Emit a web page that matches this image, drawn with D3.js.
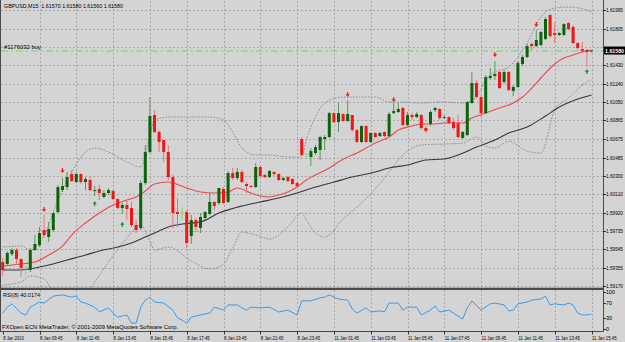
<!DOCTYPE html>
<html><head><meta charset="utf-8">
<script src="https://cdn.jsdelivr.net/npm/d3@7"></script>
<style>html,body{margin:0;padding:0;background:#d4d4d4;overflow:hidden}</style>
</head><body><svg id="c" width="625" height="342"></svg>
<script>
// ---------- DATA ----------
const symbolTitle = "GBPUSD,M15  1.61570 1.61580 1.61560 1.61580";
const orderLabel = "#1176032 buy";
const orderPrice = 1.61575;
const rsiTitle = "RSI(8) 40.0174";
const copyright = "FXOpen ECN MetaTrader, \u00A9 2001-2009 MetaQuotes Software Corp.";
const lastPrice = 1.61580;

const priceTicks = ["1.61995","1.61805","1.61615","1.61430","1.61240","1.61050","1.60865","1.60675","1.60485","1.60300","1.60110","1.59920","1.59735","1.59545","1.59355","1.59170"];
const rsiTicks = [100,70,30,0];
const timeTickBars = [0,8,16,24,32,40,48,56,64,72,80,88,96,104,112,120,128];
const timeTickLabels = ["8 Jan 2010","8 Jan 09:45","8 Jan 11:45","8 Jan 13:45","8 Jan 15:45","8 Jan 17:45","8 Jan 19:45","8 Jan 21:45","8 Jan 23:45","11 Jan 01:45","11 Jan 03:45","11 Jan 05:45","11 Jan 07:45","11 Jan 09:45","11 Jan 11:45","11 Jan 13:45","11 Jan 15:45"];

const openV = [1.59415,1.59395,1.59497,1.59538,1.59446,1.59364,1.59334,1.59538,1.59589,1.59743,
1.59671,1.59743,1.59927,1.60152,1.60183,1.60316,1.60234,1.60316,1.60234,1.60255,
1.60142,1.60163,1.60081,1.60122,1.60142,1.60060,1.59968,1.59999,1.59968,1.59794,
1.59763,1.60224,1.60541,1.60920,1.60746,1.60664,1.60541,1.60285,1.59927,1.59927,
1.59927,1.59682,1.59845,1.59763,1.59866,1.59907,1.60030,1.60019,1.60163,1.60030,
1.60326,1.60275,1.60337,1.60214,1.60193,1.60183,1.60388,1.60306,1.60285,1.60337,
1.60316,1.60255,1.60285,1.60265,1.60224,1.60674,1.60521,1.60490,1.60531,1.60562,
1.60674,1.60695,1.60940,1.60848,1.60930,1.60859,1.60920,1.60766,1.60644,1.60807,
1.60644,1.60736,1.60705,1.60746,1.60705,1.60940,1.60951,1.60992,1.60818,1.60920,
1.60899,1.60920,1.60787,1.60828,1.60971,1.60981,1.60889,1.60899,1.60848,1.60838,
1.60685,1.60715,1.61043,1.61247,1.61104,1.60940,1.61299,1.61319,1.61360,1.61258,
1.61360,1.61166,1.61207,1.61442,1.61514,1.61647,1.61626,1.61636,1.61698,1.61943,
1.61759,1.61739,1.61739,1.61862,1.61821,1.61657,1.61595,1.61585,1.61570];
const highV = [1.59456,1.59528,1.59559,1.59559,1.59456,1.59375,1.59559,1.59692,1.59774,1.59896,
1.59825,1.59927,1.60204,1.60275,1.60337,1.60357,1.60337,1.60326,1.60285,1.60285,
1.60193,1.60204,1.60152,1.60173,1.60163,1.60070,1.60019,1.60050,1.60030,1.59845,
1.60255,1.60613,1.61104,1.60971,1.60766,1.60664,1.60613,1.60306,1.60070,1.59978,
1.59948,1.59896,1.59866,1.59917,1.59937,1.60122,1.60040,1.60173,1.60183,1.60347,
1.60378,1.60378,1.60357,1.60234,1.60204,1.60429,1.60398,1.60316,1.60357,1.60347,
1.60326,1.60285,1.60296,1.60275,1.60234,1.60695,1.60521,1.60582,1.60613,1.60705,
1.60715,1.60951,1.60951,1.61043,1.60940,1.61074,1.60920,1.60777,1.60818,1.60818,
1.60746,1.60746,1.60746,1.60756,1.60951,1.61043,1.61043,1.61002,1.60951,1.60940,
1.60951,1.60930,1.60807,1.60971,1.61002,1.60992,1.60920,1.60910,1.60889,1.60920,
1.60756,1.61063,1.61360,1.61278,1.61125,1.61329,1.61401,1.61473,1.61380,1.61380,
1.61370,1.61227,1.61473,1.61534,1.61647,1.61667,1.61790,1.61780,1.61923,1.61954,
1.61862,1.61769,1.61862,1.61872,1.61841,1.61667,1.61667,1.61595,1.61580];
const lowV = [1.59272,1.59375,1.59477,1.59385,1.59262,1.59282,1.59313,1.59528,1.59569,1.59661,
1.59620,1.59722,1.59917,1.60132,1.60152,1.60234,1.60224,1.60214,1.60152,1.60142,
1.60091,1.60050,1.60070,1.60101,1.60050,1.59958,1.59907,1.59845,1.59774,1.59712,
1.59743,1.60204,1.60531,1.60736,1.60541,1.60439,1.60255,1.59763,1.59774,1.59845,
1.59559,1.59600,1.59722,1.59712,1.59845,1.59896,1.59948,1.59999,1.60009,1.60019,
1.60255,1.60255,1.60224,1.60122,1.60173,1.60173,1.60275,1.60275,1.60275,1.60296,
1.60244,1.60244,1.60234,1.60204,1.60173,1.60500,1.60480,1.60398,1.60511,1.60459,
1.60562,1.60685,1.60838,1.60746,1.60848,1.60848,1.60746,1.60633,1.60633,1.60633,
1.60633,1.60685,1.60695,1.60695,1.60695,1.60930,1.60940,1.60807,1.60807,1.60869,
1.60889,1.60766,1.60736,1.60807,1.60951,1.60869,1.60879,1.60828,1.60766,1.60685,
1.60674,1.60705,1.61033,1.61094,1.60899,1.60930,1.61278,1.61278,1.61186,1.61237,
1.61166,1.61114,1.61196,1.61421,1.61503,1.61585,1.61616,1.61626,1.61688,1.61708,
1.61657,1.61728,1.61728,1.61790,1.61647,1.61585,1.61565,1.61411,1.61560];
const closeV = [1.59334,1.59508,1.59538,1.59446,1.59354,1.59364,1.59538,1.59600,1.59712,1.59692,
1.59753,1.59917,1.60183,1.60193,1.60285,1.60244,1.60316,1.60234,1.60265,1.60152,
1.60152,1.60122,1.60122,1.60152,1.60060,1.59968,1.59999,1.59958,1.59794,1.59743,
1.60224,1.60541,1.60910,1.60746,1.60644,1.60541,1.60285,1.59917,1.59907,1.59927,
1.59610,1.59845,1.59774,1.59876,1.59927,1.60030,1.59989,1.60173,1.60019,1.60326,
1.60275,1.60337,1.60234,1.60193,1.60183,1.60388,1.60296,1.60285,1.60347,1.60316,
1.60255,1.60275,1.60244,1.60214,1.60193,1.60511,1.60521,1.60551,1.60592,1.60695,
1.60695,1.60940,1.60848,1.60940,1.60859,1.60930,1.60766,1.60644,1.60807,1.60644,
1.60736,1.60695,1.60736,1.60705,1.60930,1.60961,1.60981,1.60818,1.60920,1.60899,
1.60930,1.60787,1.60756,1.60951,1.60992,1.60889,1.60899,1.60838,1.60787,1.60695,
1.60746,1.61053,1.61247,1.61104,1.60940,1.61309,1.61319,1.61340,1.61196,1.61360,
1.61176,1.61207,1.61452,1.61514,1.61626,1.61626,1.61688,1.61769,1.61903,1.61728,
1.61739,1.61759,1.61851,1.61800,1.61657,1.61606,1.61575,1.61565,1.61580];

const maFastBars = [0,4,7,10,13,15,18,21,24,27,29,31,33,36,37,40,43,46,49,51,54,56,58,60,62,64,66,68,71,73,75,77,79,81,84,86,89,91,94,96,98,100,102,105,108,111,113,115,117,120,122,124,126,128];
const maFastVals = [1.59375,1.59395,1.59415,1.59487,1.59579,1.59692,1.59815,1.59917,1.59999,1.60050,1.60081,1.60142,1.60214,1.60234,1.60224,1.60173,1.60132,1.60122,1.60132,1.60173,1.60122,1.60091,1.60081,1.60101,1.60132,1.60183,1.60255,1.60306,1.60378,1.60439,1.60490,1.60531,1.60582,1.60633,1.60695,1.60766,1.60807,1.60828,1.60828,1.60838,1.60838,1.60838,1.60889,1.60940,1.60992,1.61043,1.61104,1.61196,1.61299,1.61442,1.61503,1.61534,1.61565,1.61585];

const maSlowBars = [0,4,7,10,14,18,21,25,28,31,34,36,39,43,47,52,56,60,64,68,72,76,81,84,88,92,96,99,103,107,110,114,118,121,125,128];
const maSlowVals = [1.59334,1.59334,1.59354,1.59385,1.59436,1.59487,1.59528,1.59569,1.59610,1.59671,1.59733,1.59774,1.59805,1.59825,1.59917,1.59989,1.60030,1.60070,1.60122,1.60183,1.60234,1.60285,1.60337,1.60378,1.60408,1.60459,1.60470,1.60511,1.60592,1.60664,1.60736,1.60797,1.60910,1.61002,1.61084,1.61125];

const bandBars = [0,4,6,9,12,15,18,20,23,27,30,32,33,36,41,45,48,50,52,55,58,62,65,66,68,70,74,78,81,84,86,91,96,100,103,105,107,110,114,117,120,123,127,128];
const bandUpper = [1.59569,1.59579,1.59538,1.59692,1.60050,1.60337,1.60541,1.60582,1.60541,1.60439,1.60388,1.60715,1.60869,1.60899,1.60899,1.60899,1.60869,1.60746,1.60582,1.60511,1.60511,1.60490,1.60490,1.60664,1.60899,1.61043,1.61104,1.61104,1.61104,1.61053,1.61053,1.61043,1.61053,1.61043,1.61104,1.61278,1.61360,1.61411,1.61657,1.61923,1.62015,1.62025,1.61995,1.61974];
const bandLower = [1.59180,1.59211,1.59272,1.59241,1.59047,1.59047,1.59088,1.59211,1.59415,1.59661,1.59794,1.59630,1.59538,1.59569,1.59426,1.59344,1.59395,1.59559,1.59722,1.59692,1.59651,1.59774,1.59917,1.59845,1.59712,1.59671,1.59855,1.60019,1.60163,1.60337,1.60459,1.60613,1.60623,1.60633,1.60695,1.60603,1.60582,1.60654,1.60551,1.60531,1.60971,1.61094,1.61258,1.61278];

const sellBars = [9,13,75,85,107,116];
const sellPrices = [1.59948,1.60347,1.61125,1.61074,1.61534,1.61841];
const buyBars = [20,26,127];
const buyPrices = [1.60019,1.59805,1.61370];

const rsiBars = [0,1,2,4,5,6,8,9,11,13,15,16,17,18,20,21,23,24,25,27,28,29,30,31,32,33,35,37,38,39,40,41,43,45,46,48,49,51,52,53,54,56,58,60,62,64,65,67,69,70,71,73,75,76,77,79,80,82,83,84,86,87,88,90,91,93,94,95,97,98,100,101,102,104,106,107,109,110,111,112,114,115,117,118,119,120,122,123,124,125,126,127,128];
const rsiVals = [43,59,68,43,38,59,73,70,89,92,86,89,73,70,59,46,57,43,32,38,16,16,59,78,86,73,70,51,30,24,16,32,38,43,59,51,65,65,57,51,59,57,59,46,51,38,76,76,84,86,92,81,78,54,43,57,46,49,46,70,70,51,59,59,38,51,62,46,51,43,27,57,76,51,68,70,65,49,51,68,73,78,81,89,65,68,65,70,65,43,38,38,40];

// ---------- DRAW ----------
const svg = d3.select('#c');
const W = 625, H = 342;
const left = 1, right = 603, mainTop = 1, mainBottom = 288, rsiTop = 290, rsiBottom = 331;

const x = d3.scaleLinear().domain([0, 128]).range([2.7, 591.5]);
const y = d3.scaleLinear().domain([1.59170, 1.61995]).range([286, 10]);
const yr = d3.scaleLinear().domain([0, 100]).range([329, 292]);

const FONT = "'Liberation Sans', Arial, sans-serif";
const BG = '#d4d4d4';

svg.append('rect').attr('width', W).attr('height', H).attr('fill', BG);

const defs = svg.append('defs');
defs.append('clipPath').attr('id', 'mainClip').append('rect')
  .attr('x', left).attr('y', mainTop).attr('width', right - left).attr('height', mainBottom - mainTop);
defs.append('clipPath').attr('id', 'rsiClip').append('rect')
  .attr('x', left).attr('y', rsiTop).attr('width', right - left).attr('height', rsiBottom - rsiTop);

// grid
const grid = svg.append('g').attr('stroke', '#a9a9a9').attr('stroke-width', 1).attr('stroke-dasharray', '2,2').attr('fill', 'none');
grid.selectAll('line.v').data(timeTickBars.slice(1)).join('line')
  .attr('x1', d => Math.round(x(d)) + 0.5).attr('x2', d => Math.round(x(d)) + 0.5)
  .attr('y1', mainTop).attr('y2', mainBottom);
grid.selectAll('line.vr').data(timeTickBars.slice(1)).join('line')
  .attr('x1', d => Math.round(x(d)) + 0.5).attr('x2', d => Math.round(x(d)) + 0.5)
  .attr('y1', rsiTop).attr('y2', rsiBottom);
grid.selectAll('line.h').data(priceTicks).join('line')
  .attr('x1', left).attr('x2', right)
  .attr('y1', d => Math.round(y(+d)) + 0.5).attr('y2', d => Math.round(y(+d)) + 0.5);

// order line
const main = svg.append('g').attr('clip-path', 'url(#mainClip)');
main.append('line').attr('x1', left).attr('x2', right)
  .attr('y1', y(orderPrice)).attr('y2', y(orderPrice))
  .attr('stroke', '#8fd88f').attr('stroke-width', 1.5).attr('stroke-dasharray', '7,3,2,3');

// bollinger bands
const bandLine = vals => d3.line().x((d, k) => x(bandBars[k])).y(d => y(d)).curve(d3.curveMonotoneX)(vals);
[bandUpper, bandLower].forEach(v => {
  main.append('path').attr('d', bandLine(v)).attr('fill', 'none')
    .attr('stroke', '#8a8a8a').attr('stroke-width', 1).attr('stroke-dasharray', '1.5,1.5');
});

// moving averages
main.append('path')
  .attr('d', d3.line().x((d, k) => x(maSlowBars[k])).y(d => y(d)).curve(d3.curveMonotoneX)(maSlowVals))
  .attr('fill', 'none').attr('stroke', '#383838').attr('stroke-width', 1.1);
main.append('path')
  .attr('d', d3.line().x((d, k) => x(maFastBars[k])).y(d => y(d)).curve(d3.curveMonotoneX)(maFastVals))
  .attr('fill', 'none').attr('stroke', '#ec4a4a').attr('stroke-width', 1.1);

// candles
const bars = d3.range(openV.length);
const isUp = i => closeV[i] > openV[i];
const isDown = i => closeV[i] < openV[i];
main.selectAll('line.wick').data(bars).join('line')
  .attr('x1', i => x(i)).attr('x2', i => x(i))
  .attr('y1', i => y(highV[i])).attr('y2', i => y(lowV[i]))
  .attr('stroke', i => isUp(i) ? '#5c975c' : isDown(i) ? '#ec7272' : '#6fe06f')
  .attr('stroke-width', 1);
main.selectAll('rect.body').data(bars.filter(i => openV[i] !== closeV[i])).join('rect')
  .attr('x', i => x(i) - 1.5).attr('width', 3)
  .attr('y', i => y(Math.max(openV[i], closeV[i])))
  .attr('height', i => Math.max(1, Math.abs(y(openV[i]) - y(closeV[i]))))
  .attr('fill', i => isUp(i) ? '#0b640b' : '#f41414');
main.selectAll('line.doji').data(bars.filter(i => openV[i] === closeV[i])).join('line')
  .attr('x1', i => x(i) - 2).attr('x2', i => x(i) + 2)
  .attr('y1', i => y(openV[i])).attr('y2', i => y(openV[i]))
  .attr('stroke', '#6fe06f').attr('stroke-width', 1);

// signal arrows
const downArrow = (cx, cy) => `M${cx - 0.6},${cy - 3}h1.2v2.3h1.6l-2.2,2.6l-2.2,-2.6h1.6z`;
const upArrow = (cx, cy) => `M${cx - 0.6},${cy + 3}h1.2v-2.3h1.6l-2.2,-2.6l-2.2,2.6h1.6z`;
main.selectAll('path.sell').data(sellBars).join('path')
  .attr('d', (d, k) => downArrow(x(d), y(sellPrices[k]))).attr('fill', '#e82020');
main.selectAll('path.buy').data(buyBars).join('path')
  .attr('d', (d, k) => upArrow(x(d), y(buyPrices[k]))).attr('fill', '#1f8a1f');

// texts in main panel
svg.append('text').attr('x', 4).attr('y', 8).text(symbolTitle)
  .attr('font-family', FONT).attr('font-size', 5.6).attr('fill', '#000')
  .attr('textLength', 119).attr('lengthAdjust', 'spacingAndGlyphs').attr('xml:space', 'preserve');
svg.append('text').attr('x', 4).attr('y', 49).text(orderLabel)
  .attr('font-family', FONT).attr('font-size', 5.6).attr('fill', '#000')
  .attr('textLength', 37).attr('lengthAdjust', 'spacingAndGlyphs');

// RSI panel
const rsiG = svg.append('g').attr('clip-path', 'url(#rsiClip)');
rsiG.append('path')
  .attr('d', d3.line().x((d, k) => x(rsiBars[k])).y(d => yr(d))(rsiVals))
  .attr('fill', 'none').attr('stroke', '#3d9be9').attr('stroke-width', 1);
svg.append('text').attr('x', 3).attr('y', 296.5).text(rsiTitle)
  .attr('font-family', FONT).attr('font-size', 5.6).attr('fill', '#000')
  .attr('textLength', 37).attr('lengthAdjust', 'spacingAndGlyphs');
svg.append('text').attr('x', 2).attr('y', 328.5).text(copyright)
  .attr('font-family', FONT).attr('font-size', 5.6).attr('fill', '#000')
  .attr('textLength', 176).attr('lengthAdjust', 'spacingAndGlyphs');

// frame lines
const frame = svg.append('g').attr('stroke', '#4a4a4a').attr('fill', 'none');
frame.append('line').attr('x1', 0.5).attr('x2', 0.5).attr('y1', 0).attr('y2', rsiBottom);
frame.append('line').attr('x1', right + 0.5).attr('x2', right + 0.5).attr('y1', 0).attr('y2', rsiBottom + 0.5);
frame.append('line').attr('x1', 0).attr('x2', right + 0.5).attr('y1', mainBottom + 0.5).attr('y2', mainBottom + 0.5).attr('stroke-width', 1.5);
frame.append('line').attr('x1', 0).attr('x2', right + 0.5).attr('y1', rsiTop - 0.5).attr('y2', rsiTop - 0.5);
frame.append('line').attr('x1', 0).attr('x2', right + 0.5).attr('y1', rsiBottom + 0.5).attr('y2', rsiBottom + 0.5);

// price axis (labels hidden where the last-price box covers them)
const yLast = y(lastPrice);
const visiblePriceTicks = priceTicks.filter(d => Math.abs(y(+d) - yLast) > 6);
const axisG = svg.append('g');
axisG.selectAll('line.pt').data(priceTicks).join('line')
  .attr('x1', right).attr('x2', right + 3)
  .attr('y1', d => Math.round(y(+d)) + 0.5).attr('y2', d => Math.round(y(+d)) + 0.5)
  .attr('stroke', '#333');
axisG.selectAll('text.pt').data(visiblePriceTicks).join('text')
  .attr('x', 606).attr('y', d => y(+d) + 2).text(d => d)
  .attr('font-family', FONT).attr('font-size', 5.4).attr('fill', '#000')
  .attr('textLength', 17).attr('lengthAdjust', 'spacingAndGlyphs');
// last price box
axisG.append('rect').attr('x', 604).attr('y', yLast - 4).attr('width', 21).attr('height', 8).attr('fill', '#000');
axisG.append('text').attr('x', 605).attr('y', yLast + 2.2).text(lastPrice.toFixed(5))
  .attr('font-family', FONT).attr('font-size', 5.6).attr('font-weight', 'bold').attr('fill', '#fff')
  .attr('textLength', 19).attr('lengthAdjust', 'spacingAndGlyphs');

// RSI axis
axisG.selectAll('line.rt').data(rsiTicks).join('line')
  .attr('x1', right).attr('x2', right + 3)
  .attr('y1', d => Math.round(yr(d)) + 0.5).attr('y2', d => Math.round(yr(d)) + 0.5)
  .attr('stroke', '#333');
axisG.selectAll('text.rt').data(rsiTicks).join('text')
  .attr('x', 606).attr('y', d => yr(d) + 2).text(d => d)
  .attr('font-family', FONT).attr('font-size', 5.4).attr('fill', '#000');

// time axis
axisG.selectAll('line.tt').data(timeTickBars).join('line')
  .attr('x1', d => Math.round(x(d)) + 0.5).attr('x2', d => Math.round(x(d)) + 0.5)
  .attr('y1', rsiBottom + 0.5).attr('y2', rsiBottom + 3.5).attr('stroke', '#333');
axisG.selectAll('text.tt').data(timeTickLabels).join('text')
  .attr('x', (d, k) => x(timeTickBars[k]) + 0.5).attr('y', 339.5).text(d => d)
  .attr('font-family', FONT).attr('font-size', 5.4).attr('fill', '#000')
  .attr('textLength', d => d.length * 2.05).attr('lengthAdjust', 'spacingAndGlyphs');
</script>
</body></html>
